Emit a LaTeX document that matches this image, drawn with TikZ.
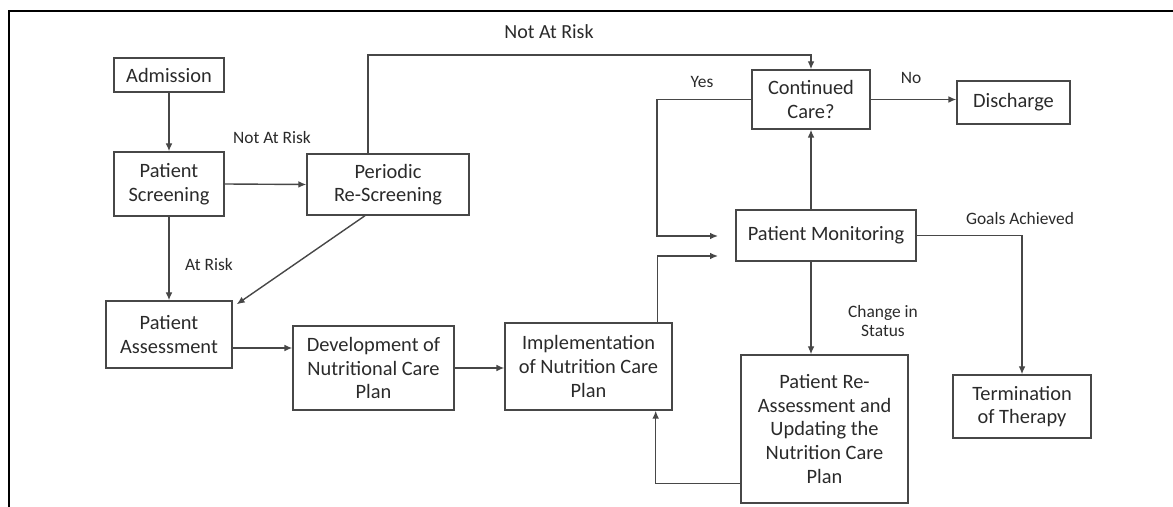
\documentclass[tikz,border=0pt]{standalone}
\usepackage{fontspec}
\setmainfont{Carlito}
\usetikzlibrary{arrows.meta,calc,positioning}
\definecolor{inkgray}{HTML}{2A2A2A}
\definecolor{linegray}{HTML}{474747}

\tikzset{
  stepbox/.style={draw=linegray,line width=0.7pt,align=center,inner sep=1pt,
    text=inkgray,font=\fontsize{10.2}{11.8}\selectfont},
  flow/.style={draw=linegray,line width=0.7pt,-{Latex[length=4pt,width=3.4pt]}},
  flowlabel/.style={text=inkgray,align=center,font=\fontsize{8.7}{9.8}\selectfont}
}

\begin{document}
\begin{tikzpicture}[x=0.5pt,y=-0.5pt]
    \useasboundingbox (0,0) rectangle (1173,507);
    % outer frame, only top and left edges
    \draw[black,line width=1pt] (9,507) -- (9,11) -- (1173,11);

    % boxes
    \node[stepbox,minimum width=55pt,minimum height=17pt] (adm) at (169,75) {Admission};
    \node[stepbox,minimum width=55pt,minimum height=32pt] (scr) at (169,184) {Patient\\Screening};
    \node[stepbox,minimum width=81pt,minimum height=30.5pt] (rescr) at (388,184.5) {Periodic\\Re-Screening};
    \node[stepbox,minimum width=63pt,minimum height=33.5pt] (assess) at (169,334.5) {Patient\\Assessment};
    \node[stepbox,minimum width=80.5pt,minimum height=42pt] (dev) at (373.5,368) {Development of\\Nutritional Care\\Plan};
    \node[stepbox,minimum width=83.5pt,minimum height=43.5pt] (impl) at (588.5,366.5) {Implementation\\of Nutrition Care\\Plan};
    \node[stepbox,minimum width=59pt,minimum height=29.5pt] (cont) at (811,99.5) {Continued\\Care?};
    \node[stepbox,minimum width=56.5pt,minimum height=21.5pt] (disc) at (1013.5,102.5) {Discharge};
    \node[stepbox,minimum width=90pt,minimum height=25.5pt] (mon) at (826,235.5) {Patient Monitoring};
    \node[stepbox,minimum width=83.5pt,minimum height=74pt] (reas) at (824.5,429) {Patient Re-\\Assessment and\\Updating the\\Nutrition Care\\Plan};
    \node[stepbox,minimum width=69pt,minimum height=31.5pt] (term) at (1022,406.5) {Termination\\of Therapy};

    % bend points and loose arrow ends near the monitoring box
    \coordinate (toprun) at (368,55);
    \coordinate (yesturn) at (657,236);
    \coordinate (yesin) at (718,236);
    \coordinate (implin) at (718,256);
    \path ([yshift=-6.75pt]assess.east) coordinate (assout);
    \path ([yshift=10pt]reas.south west) coordinate (reasout);

    % connectors
    \draw[flow] (adm.south) -- (scr.north);
    \draw[flow] (scr.east) -- (rescr.west);
    \draw[flow] (scr.south) -- (assess.north);
    \draw[flow] ([xshift=-11.5pt]rescr.south) -- ([xshift=2pt,yshift=-2pt]assess.north east);
    \draw[flow] ([xshift=-10pt]rescr.north) -- (toprun) -| (cont.north);
    \draw[flow] (assout) -- (assout -| dev.west);
    \draw[flow] (dev.east) -- (dev.east -| impl.west);
    \draw[flow] ([xshift=-7.5pt]impl.north east) |- (implin);
    \draw[flow] (cont.west) -| (yesturn) -- (yesin);
    \draw[flow] (cont.south |- mon.north) -- (cont.south);
    \draw[flow] (cont.east) -- (cont.east -| disc.west);
    \draw[flow] (mon.east) -| (term.north);
    \draw[flow] (cont.south |- mon.south) -- (cont.south |- reas.north);
    \draw[flow] (reasout) -| ([xshift=-8.5pt]impl.south east);

    % branch labels
    \node[flowlabel,font=\fontsize{10}{12}\selectfont] (lnotrisktop) at (549,32) {Not At Risk};
    \node[flowlabel] (lnotrisk) at (272,138) {Not At Risk};
    \node[flowlabel] (latrisk) at (209,265) {At Risk};
    \node[flowlabel] (lyes) at (702,82) {Yes};
    \node[flowlabel] (lno) at (911,78) {No};
    \node[flowlabel] (lgoals) at (1020,219) {Goals Achieved};
    \node[flowlabel] (lchange) at (883,321) {Change in\\Status};
  \end{tikzpicture}
\end{document}
